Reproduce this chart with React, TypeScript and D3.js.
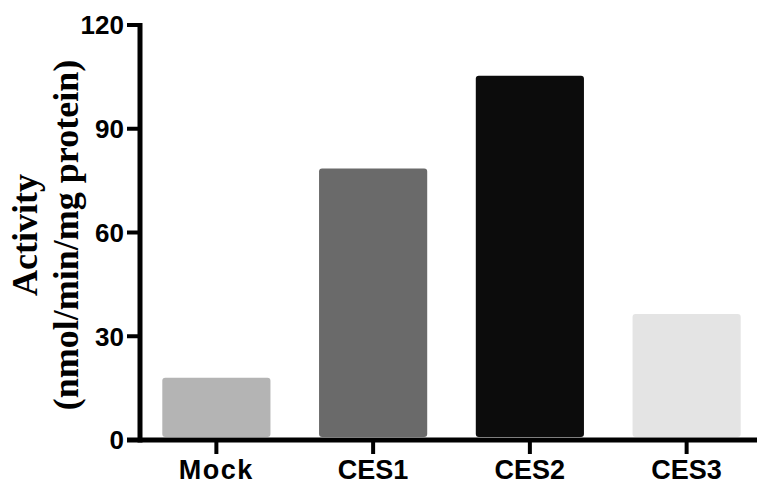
import React from "react";
import * as d3 from "d3";

const categories = ["Mock", "CES1", "CES2", "CES3"];
const values = [18, 78.5, 105.3, 36.4];
const barColors = ["#b4b4b4", "#6a6a6a", "#0c0c0c", "#e4e4e4"];
const yTicks = [0, 30, 60, 90, 120];
const yTitle1 = "Activity";
const yTitle2 = "(nmol/min/mg protein)";

const W = 757;
const H = 486;

export default function App() {
  const x = d3
    .scaleBand<string>()
    .domain(categories)
    .range([138, 765])
    .paddingInner(0.31)
    .paddingOuter(0.155);
  const y = d3.scaleLinear().domain([0, 120]).range([440, 25]);
  const axisX = 140;
  const axisY = 440;

  return (
    <svg
      width={W}
      height={H}
      style={{ position: "absolute", left: 0, top: 0, background: "#fff" }}
    >
      {categories.map((c, i) => (
        <rect
          key={c}
          x={x(c)!}
          y={y(values[i])}
          width={x.bandwidth()}
          height={y(0) - y(values[i]) - 3}
          fill={barColors[i]}
          rx={3}
        />
      ))}
      {/* y axis */}
      <line x1={axisX} x2={axisX} y1={23} y2={axisY + 2.5} stroke="#000" strokeWidth={5} />
      {yTicks.map((t) => (
        <g key={t}>
          <line x1={127} x2={axisX} y1={y(t)} y2={y(t)} stroke="#000" strokeWidth={4} />
          <text
            x={124}
            y={y(t)}
            dy="0.36em"
            textAnchor="end"
            fontFamily="Liberation Sans, Arial, sans-serif"
            fontWeight="bold"
            fontSize={26}
          >
            {t}
          </text>
        </g>
      ))}
      {/* x axis */}
      <line x1={127} x2={W} y1={axisY} y2={axisY} stroke="#000" strokeWidth={5} />
      {categories.map((c) => {
        const cx = x(c)! + x.bandwidth() / 2;
        return (
          <g key={c}>
            <line x1={cx} x2={cx} y1={axisY} y2={axisY + 14} stroke="#000" strokeWidth={4} />
            <text
              x={cx}
              y={479}
              textAnchor="middle"
              fontFamily="Liberation Sans, Arial, sans-serif"
              fontWeight="bold"
              fontSize={27}
              letterSpacing={c === "Mock" ? 1.5 : 0}
            >
              {c}
            </text>
          </g>
        );
      })}
      {/* y title */}
      <g transform="translate(37,235) rotate(-90)">
        <text
          x={0}
          y={0}
          textAnchor="middle"
          fontFamily="Liberation Serif, Times New Roman, serif"
          fontWeight="bold"
          fontSize={36}
        >
          {yTitle1}
        </text>
        <text
          x={0}
          y={41}
          textAnchor="middle"
          fontFamily="Liberation Serif, Times New Roman, serif"
          fontWeight="bold"
          fontSize={36}
        >
          {yTitle2}
        </text>
      </g>
    </svg>
  );
}
